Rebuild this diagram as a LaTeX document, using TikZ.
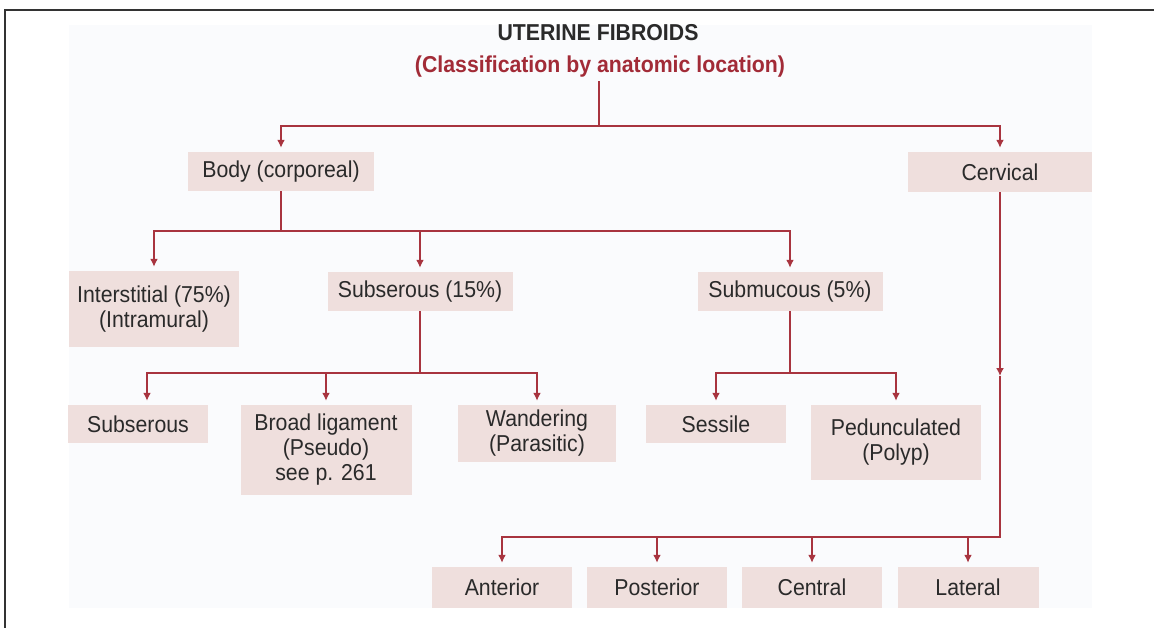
\documentclass[tikz,border=0pt]{standalone}
\usepackage{fontspec}
\setmainfont{Liberation Sans}[FakeStretch=0.925]
\usetikzlibrary{arrows.meta}
\definecolor{boxpink}{HTML}{EFDFDD}
\definecolor{linered}{HTML}{A8343F}
\definecolor{subred}{HTML}{A22B37}
\definecolor{txt}{HTML}{2A2A2A}
\definecolor{panel}{HTML}{FAFBFD}
\definecolor{framec}{HTML}{333333}
\begin{document}
\begin{tikzpicture}[x=1pt,y=-1pt,
  every node/.style={font=\fontsize{23}{25}\selectfont, text=txt},
  fbox/.style={fill=boxpink, inner sep=0pt, align=center},
  ln/.style={draw=linered, line width=2pt},
  arr/.style={ln, -{Latex[length=8pt,width=8pt]}, shorten >=4pt},
  ttl/.style={font=\bfseries\fontsize{23}{25}\selectfont, anchor=base},
]
\useasboundingbox (0,0) rectangle (1154,628);
\fill[white] (0,0) rectangle (1154,628);
\fill[panel] (69,25) rectangle (1092,608);
\draw[framec, line width=2.5pt] (5,640) -- (5,10) -- (1160,10);

% titles
\node[ttl] (title) at (598,41) {UTERINE FIBROIDS};
\node[ttl, text=subred] (sub) at (600,73) {(Classification by anatomic location)};

% level 1
\node[fbox, minimum width=186pt, minimum height=39pt] (body) at (281,171.5) {Body (corporeal)};
\node[fbox, minimum width=184pt, minimum height=40pt] (cerv) at (1000,172) {Cervical};

% level 2
\node[fbox, minimum width=170pt, minimum height=76pt] (inter) at (154,309) {Interstitial (75\%)\\(Intramural)};
\node[fbox, minimum width=185pt, minimum height=39pt] (subs15) at (420,291.5) {Subserous (15\%)};
\node[fbox, minimum width=185pt, minimum height=39pt] (subm) at (790,291.5) {Submucous (5\%)};

% level 3
\node[fbox, minimum width=140pt, minimum height=38pt] (subs) at (138,424) {Subserous};
\node[fbox, minimum width=171pt, minimum height=90pt] (broad) at (326,450) {Broad ligament\\(Pseudo)\\see p. 261};
\node[fbox, minimum width=158pt, minimum height=57pt] (wand) at (537,433.5) {Wandering\\(Parasitic)};
\node[fbox, minimum width=140pt, minimum height=38pt] (sess) at (716,424) {Sessile};
\node[fbox, minimum width=170pt, minimum height=75pt] (ped) at (896,442.5) {Pedunculated\\(Polyp)};

% cervical children
\node[fbox, minimum width=140pt, minimum height=41pt] (ant) at (502,587.5) {Anterior};
\node[fbox, minimum width=140pt, minimum height=41pt] (post) at (657,587.5) {Posterior};
\node[fbox, minimum width=140pt, minimum height=41pt] (cent) at (812,587.5) {Central};
\node[fbox, minimum width=141pt, minimum height=41pt] (lat) at (968,587.5) {Lateral};

% junctions
\coordinate (J1) at (599,126);
\coordinate (J2) at (281,231);
\coordinate (J3) at (420,373);
\coordinate (J4) at (790,373);
\coordinate (CM) at (1000,376);
\coordinate (J5) at (1000,537);

% connectors
\draw[ln] (sub.south -| J1) -- (J1);
\draw[arr] (J1) -| (body.north);
\draw[arr] (J1) -| (cerv.north);

\draw[ln] (body.south) -- (J2);
\draw[arr] (J2) -| (inter.north);
\draw[arr] (J2) -| (subs15.north);
\draw[arr] (J2) -| (subm.north);

\draw[ln] (subs15.south) -- (J3);
\draw[arr] (J3) -| ([xshift=9pt]subs.north);
\draw[arr] (J3) -| (broad.north);
\draw[arr] (J3) -| (wand.north);

\draw[ln] (subm.south) -- (J4);
\draw[arr] (J4) -| (sess.north);
\draw[arr] (J4) -| (ped.north);

\draw[arr, shorten >=0pt] (cerv.south) -- (CM);
\draw[ln] (CM) -- (J5) -- (J5 -| ant.north);
\draw[arr] (J5) -| (ant.north);
\draw[arr] (J5) -| (post.north);
\draw[arr] (J5) -| (cent.north);
\draw[arr] (J5) -| (lat.north);
\end{tikzpicture}
\end{document}
